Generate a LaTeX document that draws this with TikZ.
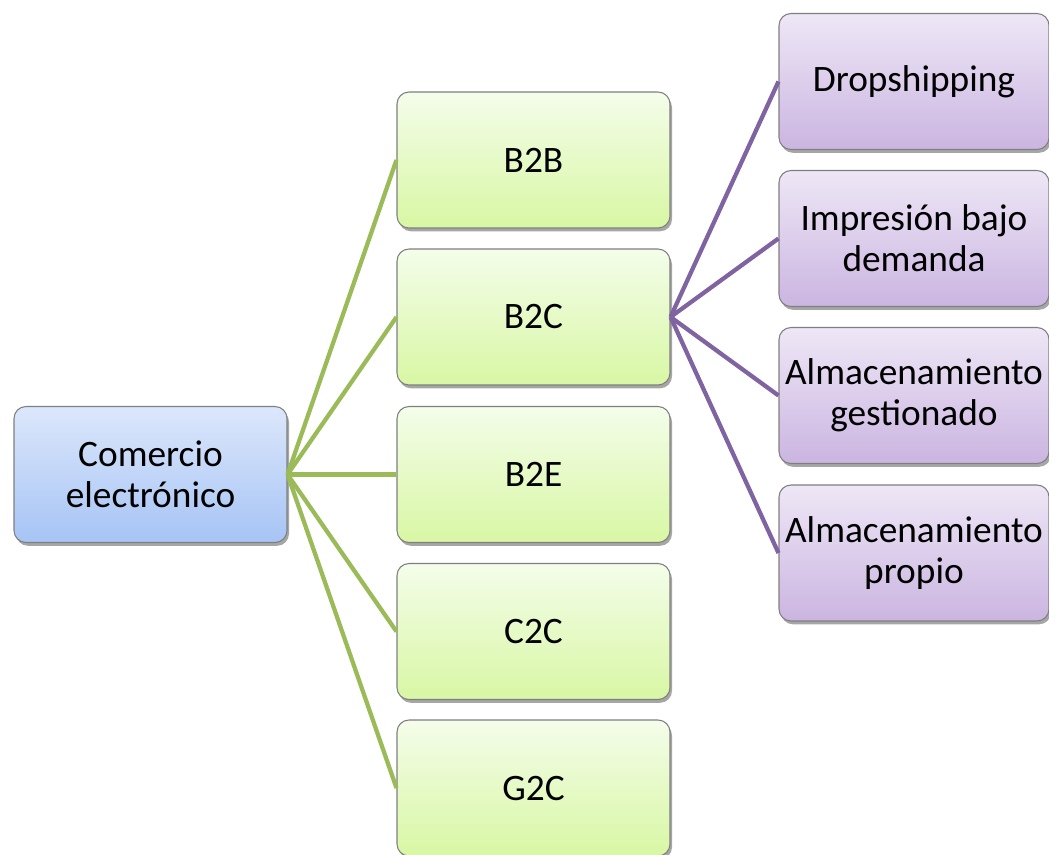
\documentclass[tikz,border=0pt]{standalone}
\usepackage{fontspec}
\setmainfont{Carlito}
\usetikzlibrary{shadows}
\definecolor{glink}{HTML}{9BBB59}
\definecolor{plink}{HTML}{8064A2}
\definecolor{btop}{HTML}{DCE7FB}
\definecolor{bbot}{HTML}{A6C4F5}
\definecolor{gtop}{HTML}{F4FDEA}
\definecolor{gbot}{HTML}{D8F7A4}
\definecolor{ptop}{HTML}{EEE7F6}
\definecolor{pbot}{HTML}{CBB5E1}
\definecolor{edge}{HTML}{7F7F7F}
\tikzset{
  box/.style={rectangle, rounded corners=9pt, draw=edge, line width=0.8pt,
    minimum width=204.75pt, minimum height=102pt, align=center,
    font=\fontsize{28}{30.5}\selectfont, inner sep=2pt,
    drop shadow={shadow xshift=1.5pt, shadow yshift=-2.5pt, opacity=0.35, fill=black}},
  rootbox/.style={box, top color=btop, bottom color=bbot},
  gbox/.style={box, top color=gtop, bottom color=gbot},
  pbox/.style={box, top color=ptop, bottom color=pbot, minimum width=202.5pt},
  glinkstyle/.style={draw=glink, line width=3.2pt},
  plinkstyle/.style={draw=plink, line width=3.2pt}
}
\begin{document}
\begin{tikzpicture}[x=0.75pt, y=-0.75pt]
\useasboundingbox (0,0) rectangle (1049,854);
\node[rootbox] (root) at (150.5,474.5) {Comercio\\electrónico};
\node[gbox] (b2b) at (533.5,160) {B2B};
\node[gbox] (b2c) at (533.5,317) {B2C};
\node[gbox] (b2e) at (533.5,474.5) {B2E};
\node[gbox] (c2c) at (533.5,631.5) {C2C};
\node[gbox] (g2c) at (533.5,788) {G2C};
\node[pbox] (drop) at (914,81.5) {Dropshipping};
\node[pbox] (imp) at (914,238.5) {Impresión bajo\\demanda};
\node[pbox] (almg) at (914,395.5) {Almacenamiento\\gestionado};
\node[pbox] (almp) at (914,553) {Almacenamiento\\propio};
\path[glinkstyle] (root.east) -- (b2b.west);
\path[glinkstyle] (root.east) -- (b2c.west);
\path[glinkstyle] (root.east) -- (b2e.west);
\path[glinkstyle] (root.east) -- (c2c.west);
\path[glinkstyle] (root.east) -- (g2c.west);
\path[plinkstyle] (b2c.east) -- (drop.west);
\path[plinkstyle] (b2c.east) -- (imp.west);
\path[plinkstyle] (b2c.east) -- (almg.west);
\path[plinkstyle] (b2c.east) -- (almp.west);
\end{tikzpicture}
\end{document}
